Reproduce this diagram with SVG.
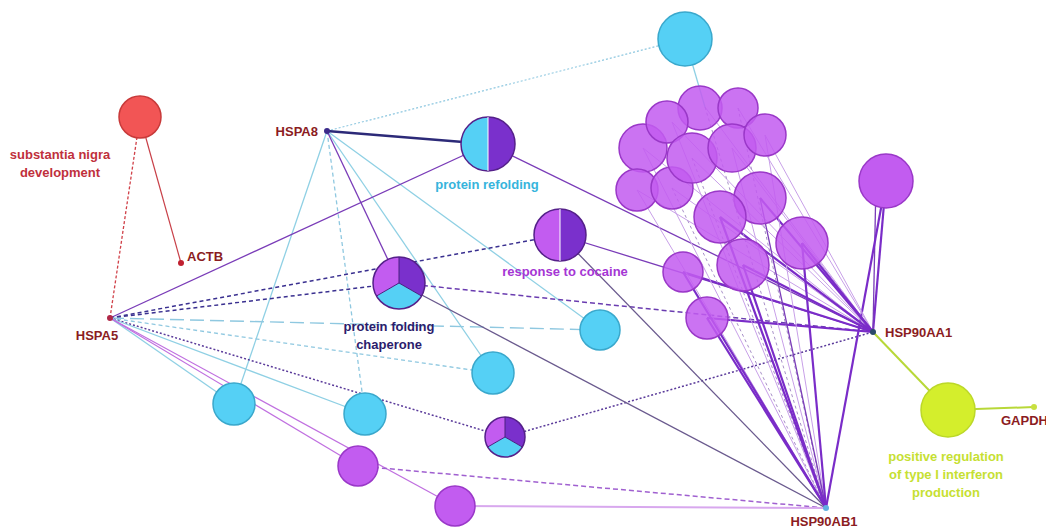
<svg xmlns="http://www.w3.org/2000/svg" width="1046" height="530" viewBox="0 0 1046 530">
<style>
text{font-family:"Liberation Sans",Arial,sans-serif;font-weight:bold;font-size:13px}
.g{fill:#8b1c22}
line{fill:none}
.lb{stroke:#8fd0e4;stroke-width:1.3}
.lbd{stroke:#8fc8e0;stroke-width:1.3;stroke-dasharray:4 3}
.lbl{stroke:#8fc8e0;stroke-width:1.4;stroke-dasharray:14 6}
.lbt{stroke:#8fc8e0;stroke-width:1.2;stroke-dasharray:2 2}
.pu{stroke:#7a3cb8;stroke-width:1.3}
.gp{stroke:#6a5a8e;stroke-width:1.3}
.put{stroke:#7a2cc8;stroke-width:2.2}
.pud{stroke:#6a3cb0;stroke-width:1.5;stroke-dasharray:5 3}
.pudot{stroke:#5a3a9a;stroke-width:1.5;stroke-dasharray:2 2}
.nav{stroke:#2c2a78;stroke-width:2.4}
.navd{stroke:#3a3090;stroke-width:1.5;stroke-dasharray:4 3}
.mg{stroke:#c070e0;stroke-width:1.2}
.lav{stroke:#c8a0e8;stroke-width:1}
.lavd{stroke:#a890c8;stroke-width:1;stroke-dasharray:3 3}
.red{stroke:#c84048;stroke-width:1.2}
.redd{stroke:#d04048;stroke-width:1.3;stroke-dasharray:3 2}
.yg{stroke:#b8d838;stroke-width:2}
.cy{fill:#55d0f5;stroke:#3aa8cc;stroke-width:1.5}
.pp{fill:#c25cf0;stroke:#9a38c8;stroke-width:1.5}
.dp{fill:#7a30cc}
.pie{fill:none;stroke:#55208a;stroke-width:1.5}
</style>
<g id="connectors">
<line class="redd" x1="110" y1="318" x2="140" y2="117"/>
<line class="red" x1="181" y1="263" x2="140" y2="117"/>
<line class="lbt" x1="327" y1="131" x2="685" y2="39"/>
<line class="lb" x1="685" y1="39" x2="705" y2="107"/>
<line class="lb" x1="327" y1="131" x2="600" y2="330"/>
<line class="lb" x1="327" y1="131" x2="493" y2="373"/>
<line class="lb" x1="327" y1="131" x2="234" y2="404"/>
<line class="lbd" x1="327" y1="131" x2="365" y2="414"/>
<line class="pu" x1="327" y1="131" x2="399" y2="283"/>
<line class="pu" x1="110" y1="318" x2="488" y2="144"/>
<line class="navd" x1="110" y1="318" x2="560" y2="235"/>
<line class="navd" x1="110" y1="318" x2="399" y2="283"/>
<line class="lbl" x1="110" y1="318" x2="600" y2="330"/>
<line class="lbd" x1="110" y1="318" x2="493" y2="373"/>
<line class="pudot" x1="110" y1="318" x2="505" y2="437"/>
<line class="lb" x1="110" y1="318" x2="234" y2="404"/>
<line class="lb" x1="110" y1="318" x2="365" y2="414"/>
<line class="mg" x1="110" y1="318" x2="358" y2="466"/>
<line class="mg" x1="110" y1="318" x2="455" y2="506"/>
<line class="pu" x1="488" y1="144" x2="873" y2="332"/>
<line class="pu" x1="560" y1="235" x2="873" y2="332"/>
<line class="pud" x1="399" y1="283" x2="873" y2="332"/>
<line class="pudot" x1="505" y1="437" x2="873" y2="332"/>
<line class="gp" x1="399" y1="283" x2="826" y2="508"/>
<line class="gp" x1="560" y1="235" x2="826" y2="508"/>
<line class="pud" x1="358" y1="466" x2="826" y2="508" style="stroke:#a060d0"/>
<line class="mg" x1="455" y1="506" x2="826" y2="508" style="stroke-width:2;stroke:#d8a8ee"/>
<line class="yg" x1="873" y1="332" x2="948" y2="410"/>
<line class="yg" x1="948" y1="410" x2="1034" y2="407"/>
<line class="put" x1="886" y1="181" x2="873" y2="332"/>
<line class="pu" x1="876" y1="181" x2="873" y2="332"/>
<line class="put" x1="886" y1="181" x2="826" y2="508"/>
<line class="lav" x1="705" y1="107" x2="873" y2="332"/>
<line class="lav" x1="672" y1="122" x2="873" y2="332"/>
<line class="lav" x1="738" y1="108" x2="873" y2="332"/>
<line class="lav" x1="765" y1="135" x2="873" y2="332"/>
<line class="lav" x1="643" y1="148" x2="873" y2="332"/>
<line class="lav" x1="692" y1="158" x2="873" y2="332"/>
<line class="lav" x1="732" y1="148" x2="873" y2="332"/>
<line class="lav" x1="637" y1="190" x2="873" y2="332"/>
<line class="lav" x1="672" y1="188" x2="873" y2="332"/>
<line class="put" x1="760" y1="198" x2="873" y2="332"/>
<line class="put" x1="720" y1="217" x2="873" y2="332"/>
<line class="put" x1="802" y1="243" x2="873" y2="332"/>
<line class="put" x1="743" y1="265" x2="873" y2="332"/>
<line class="put" x1="683" y1="272" x2="873" y2="332"/>
<line class="put" x1="707" y1="318" x2="873" y2="332"/>
<line class="lavd" x1="705" y1="107" x2="826" y2="508"/>
<line class="lav" x1="672" y1="122" x2="826" y2="508"/>
<line class="lavd" x1="738" y1="108" x2="826" y2="508"/>
<line class="lav" x1="765" y1="135" x2="826" y2="508"/>
<line class="lav" x1="643" y1="148" x2="826" y2="508"/>
<line class="lavd" x1="692" y1="158" x2="826" y2="508"/>
<line class="lav" x1="732" y1="148" x2="826" y2="508"/>
<line class="lav" x1="637" y1="190" x2="826" y2="508"/>
<line class="lavd" x1="672" y1="188" x2="826" y2="508"/>
<line class="pu" x1="760" y1="198" x2="826" y2="508"/>
<line class="put" x1="720" y1="217" x2="826" y2="508"/>
<line class="put" x1="802" y1="243" x2="826" y2="508"/>
<line class="put" x1="743" y1="265" x2="826" y2="508"/>
<line class="put" x1="683" y1="272" x2="826" y2="508"/>
<line class="put" x1="707" y1="318" x2="826" y2="508"/>
<line class="nav" x1="327" y1="131" x2="488" y2="144"/>
</g>
<g id="term-substantia-nigra"><circle cx="140" cy="117" r="21" fill="#f25555" stroke="#c83a3a" stroke-width="1.5"/><text x="60" y="159" text-anchor="middle" fill="#c0303c">substantia nigra</text><text x="60" y="177" text-anchor="middle" fill="#c0303c">development</text></g>
<g id="term-cyan-top"><circle class="cy" cx="685" cy="39" r="27"/></g>
<g id="term-protein-refolding"><path d="M488,117 A27,27 0 0,0 488,171 Z" fill="#55d0f5"/><path d="M488,117 A27,27 0 0,1 488,171 Z" class="dp"/><circle class="pie" cx="488" cy="144" r="27"/><line x1="488" y1="117" x2="488" y2="171" stroke="#fff" stroke-width="1"/><text x="487" y="189" text-anchor="middle" fill="#36b4dc">protein refolding</text></g>
<g id="term-response-to-cocaine"><path d="M560,209 A26,26 0 0,0 560,261 Z" fill="#c25cf0"/><path d="M560,209 A26,26 0 0,1 560,261 Z" class="dp"/><circle class="pie" cx="560" cy="235" r="26"/><line x1="560" y1="209" x2="560" y2="261" stroke="#fff" stroke-width="1"/><text x="565" y="276" text-anchor="middle" fill="#a536d4">response to cocaine</text></g>
<g id="term-protein-folding-chaperone"><path d="M399,283 L399,257 A26,26 0 0,1 421.5,296 Z" class="dp"/><path d="M399,283 L421.5,296 A26,26 0 0,1 376.5,296 Z" fill="#55d0f5"/><path d="M399,283 L376.5,296 A26,26 0 0,1 399,257 Z" fill="#c25cf0"/><circle class="pie" cx="399" cy="283" r="26"/><path d="M399,257 L399,283 L421.5,296 M399,283 L376.5,296" fill="none" stroke="#4a2080" stroke-width="1"/><text x="389" y="331" text-anchor="middle" fill="#2c1c6c">protein folding</text><text x="389" y="349" text-anchor="middle" fill="#2c1c6c">chaperone</text></g>
<g id="term-small-pie"><path d="M505,437 L505,417 A20,20 0 0,1 522.3,447 Z" class="dp"/><path d="M505,437 L522.3,447 A20,20 0 0,1 487.7,447 Z" fill="#55d0f5"/><path d="M505,437 L487.7,447 A20,20 0 0,1 505,417 Z" fill="#c25cf0"/><circle class="pie" cx="505" cy="437" r="20"/><path d="M505,417 L505,437 L522.3,447 M505,437 L487.7,447" fill="none" stroke="#4a2080" stroke-width="1"/></g>
<g id="term-cyan-1"><circle class="cy" cx="600" cy="330" r="20"/></g>
<g id="term-cyan-2"><circle class="cy" cx="493" cy="373" r="21"/></g>
<g id="term-cyan-3"><circle class="cy" cx="365" cy="414" r="21"/></g>
<g id="term-cyan-4"><circle class="cy" cx="234" cy="404" r="21"/></g>
<g id="term-purple-a"><circle class="pp" cx="358" cy="466" r="20"/></g>
<g id="term-purple-b"><circle class="pp" cx="455" cy="506" r="20"/></g>
<g id="term-purple-big"><circle class="pp" cx="886" cy="181" r="27"/></g>
<g id="term-cluster" fill-opacity="0.86">
<circle class="pp" cx="643" cy="148" r="24"/>
<circle class="pp" cx="637" cy="190" r="21"/>
<circle class="pp" cx="672" cy="188" r="21"/>
<circle class="pp" cx="700" cy="108" r="22"/>
<circle class="pp" cx="667" cy="122" r="21"/>
<circle class="pp" cx="738" cy="108" r="20"/>
<circle class="pp" cx="692" cy="158" r="25"/>
<circle class="pp" cx="732" cy="148" r="24"/>
<circle class="pp" cx="765" cy="135" r="21"/>
<circle class="pp" cx="760" cy="198" r="26"/>
<circle class="pp" cx="720" cy="217" r="26"/>
<circle class="pp" cx="802" cy="243" r="26"/>
<circle class="pp" cx="743" cy="265" r="26"/>
<circle class="pp" cx="683" cy="272" r="20"/>
<circle class="pp" cx="707" cy="318" r="21"/>
</g>
<g id="term-interferon"><circle cx="948" cy="410" r="27" fill="#d4ee2c" stroke="#bcd828" stroke-width="1.5"/><text x="946" y="461" text-anchor="middle" fill="#c6e032">positive regulation</text><text x="946" y="479" text-anchor="middle" fill="#c6e032">of type I interferon</text><text x="946" y="497" text-anchor="middle" fill="#c6e032">production</text></g>
<g id="gene-HSPA8"><circle cx="327" cy="131" r="3" fill="#3a2a8a"/><text class="g" x="318" y="136" text-anchor="end">HSPA8</text></g>
<g id="gene-HSPA5"><circle cx="110" cy="318" r="3" fill="#b02848"/><text class="g" x="97" y="340" text-anchor="middle">HSPA5</text></g>
<g id="gene-ACTB"><circle cx="181" cy="263" r="3" fill="#c02030"/><text class="g" x="187" y="261">ACTB</text></g>
<g id="gene-HSP90AA1"><circle cx="873" cy="332" r="3" fill="#2a4a6a"/><text class="g" x="885" y="337">HSP90AA1</text></g>
<g id="gene-HSP90AB1"><circle cx="826" cy="508" r="3" fill="#60b0e0"/><text class="g" x="824" y="526" text-anchor="middle">HSP90AB1</text></g>
<g id="gene-GAPDH"><circle cx="1034" cy="407" r="3" fill="#c8e040"/><text class="g" x="1001" y="425">GAPDH</text></g>
</svg>
